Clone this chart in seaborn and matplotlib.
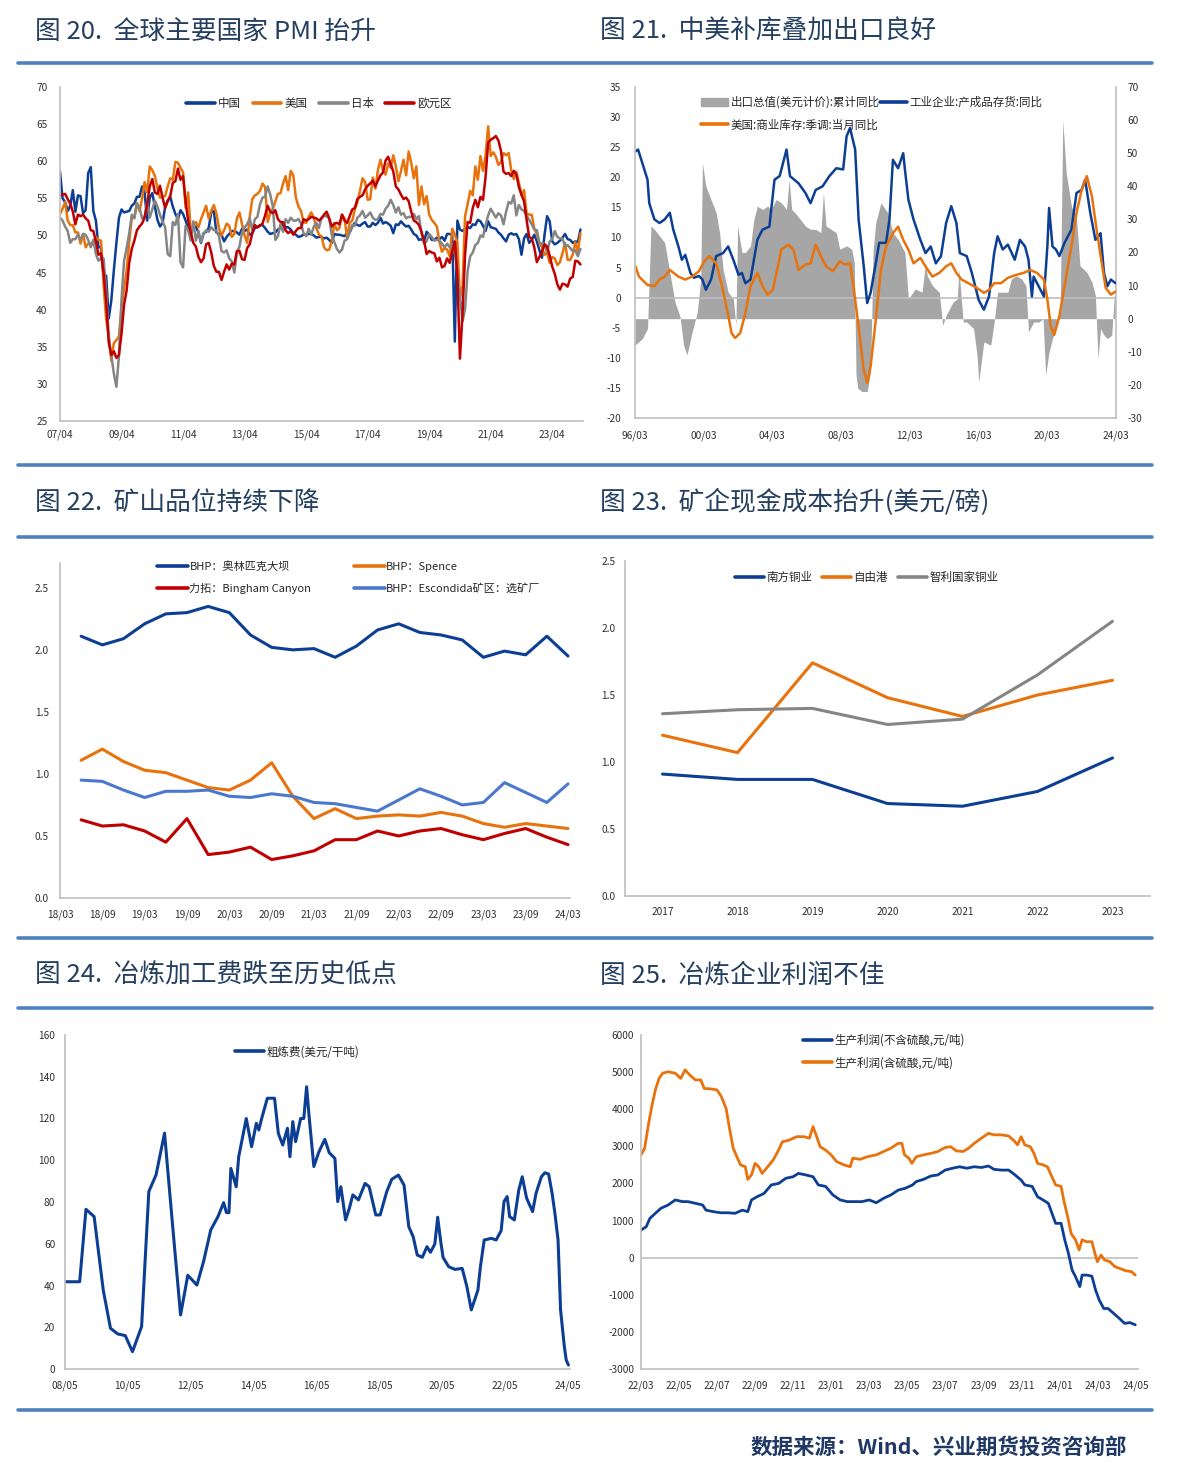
import numpy as np
import pandas as pd
import matplotlib
matplotlib.use("Agg")
import matplotlib.pyplot as plt
import seaborn as sns
from matplotlib.lines import Line2D
from matplotlib.patches import Patch

# ---------------- data ----------------
# Fig 20: monthly PMI, 2007-04 .. 2024-03
pmi_china = [58.6, 55.0, 54.5, 53.3, 54.0, 56.1, 53.2, 55.4, 55.3,
             53.0, 53.4, 58.4, 59.2, 53.3, 52.0, 48.4, 48.4, 44.6, 44.6, 38.8, 41.2,
             45.3, 49.0, 52.4, 53.5, 53.1, 53.2, 53.3, 54.0, 54.3, 55.2, 55.2, 56.6,
             55.8, 52.0, 55.1, 55.7, 53.9, 52.1, 51.2, 51.7, 53.8, 54.7, 55.2, 53.9,
             52.9, 52.2, 53.4, 52.9, 52.0, 50.9, 50.7, 50.9, 51.2, 50.4, 49.0, 50.3,
             50.5, 51.0, 53.1, 53.3, 50.4, 50.2, 50.1, 49.2, 49.8, 50.2, 50.6, 50.6,
             50.4, 50.1, 50.9, 50.6, 50.8, 50.1, 50.3, 51.0, 51.1, 51.4, 51.4, 51.0,
             50.5, 50.2, 50.3, 50.4, 50.8, 51.0, 51.7, 51.1, 51.1, 50.8, 50.3, 50.1,
             49.8, 49.9, 50.1, 50.1, 50.2, 50.2, 50.0, 49.7, 49.8, 49.8, 49.6, 49.7,
             49.4, 49.0, 50.2, 50.1, 50.1, 50.0, 49.9, 50.4, 50.4, 51.2, 51.7, 51.4,
             51.3, 51.6, 51.8, 51.2, 51.2, 51.7, 51.4, 51.7, 52.4, 51.6, 51.8, 51.6,
             51.3, 50.3, 51.5, 51.4, 51.9, 51.5, 51.2, 51.3, 50.8, 50.2, 50.0, 49.4,
             49.5, 49.2, 50.5, 50.1, 49.4, 49.4, 49.7, 49.5, 49.8, 49.3, 50.2, 50.2,
             50.0, 35.7, 52.0, 50.8, 50.6, 50.9, 51.1, 51.0, 51.5, 51.4, 52.1, 51.9,
             51.3, 50.6, 51.9, 51.1, 51.0, 50.9, 50.4, 50.1, 49.6, 49.2, 50.1, 50.3,
             50.1, 50.2, 49.5, 47.4, 49.6, 50.2, 49.0, 49.4, 50.1, 49.2, 48.0, 47.0,
             50.1, 52.6, 51.9, 49.2, 48.8, 49.0, 49.3, 49.7, 50.2, 49.5, 49.4, 49.0,
             49.2, 49.1, 50.8]
pmi_us = [52.9, 53.6, 54.5, 52.0, 51.4, 51.4, 50.4, 50.4, 48.9,
          50.2, 48.4, 48.9, 48.9, 49.1, 49.8, 49.4, 49.3, 43.4, 38.7, 36.5, 33.1,
          35.5, 35.9, 36.4, 40.4, 42.8, 45.3, 49.1, 52.4, 52.4, 54.4, 53.3, 54.9,
          57.2, 55.8, 59.3, 58.8, 58.0, 56.4, 55.1, 55.2, 55.3, 56.6, 57.7, 57.5,
          59.9, 59.8, 59.1, 58.5, 53.7, 55.8, 50.6, 51.3, 51.8, 51.1, 52.2, 53.1,
          54.0, 52.3, 53.3, 54.1, 53.0, 51.0, 50.0, 50.7, 51.6, 51.3, 49.8, 50.2,
          52.3, 53.1, 51.5, 50.0, 49.0, 52.5, 54.9, 55.4, 55.6, 56.0, 57.0, 56.5,
          51.8, 53.0, 53.6, 54.6, 55.6, 55.7, 57.0, 58.0, 56.1, 58.7, 58.1, 55.1,
          53.9, 53.3, 51.8, 51.7, 52.5, 53.1, 52.4, 51.0, 50.1, 49.9, 48.4, 48.0,
          48.1, 49.2, 51.6, 50.7, 51.0, 52.8, 52.3, 49.6, 51.7, 52.0, 53.5, 54.5,
          56.0, 57.7, 57.2, 54.8, 54.9, 57.8, 56.3, 58.8, 60.2, 58.7, 58.2, 59.7,
          59.1, 60.8, 59.3, 57.3, 58.7, 60.2, 58.1, 61.3, 59.8, 57.7, 59.3, 54.1,
          56.6, 54.2, 55.3, 52.8, 52.1, 51.7, 51.2, 49.1, 47.8, 48.3, 48.1, 47.2,
          50.9, 50.1, 49.1, 41.5, 43.1, 52.6, 54.2, 56.0, 55.4, 59.3, 57.5, 60.7,
          58.7, 60.8, 64.7, 60.7, 61.2, 60.6, 59.5, 59.9, 61.1, 60.8, 61.1, 58.8,
          57.6, 58.6, 57.1, 55.4, 56.1, 53.0, 52.8, 52.8, 50.9, 50.2, 49.0, 48.4,
          47.4, 47.7, 46.3, 47.1, 46.9, 46.0, 46.4, 47.6, 49.0, 46.7, 46.7, 47.4,
          49.1, 47.8, 50.3]
pmi_japan = [52.4, 52.0, 51.2, 50.6, 49.0, 49.5, 49.5, 50.1, 49.4,
             50.2, 50.1, 49.4, 48.4, 49.4, 47.5, 46.6, 46.9, 46.9, 42.4, 36.4, 33.9,
             31.4, 29.6, 33.8, 41.4, 46.6, 48.3, 50.3, 52.8, 52.3, 54.3, 53.8, 52.3,
             52.5, 54.5, 52.4, 53.5, 54.7, 53.9, 52.8, 51.9, 51.1, 47.5, 47.2, 51.8,
             51.4, 52.9, 46.4, 45.7, 51.3, 50.7, 49.3, 51.9, 49.3, 50.6, 49.1, 50.2,
             50.7, 50.5, 51.1, 50.7, 50.7, 49.9, 47.9, 47.7, 48.0, 46.9, 46.5, 45.0,
             47.7, 48.5, 50.4, 51.1, 51.5, 52.3, 50.7, 52.2, 52.5, 54.2, 55.1, 55.2,
             56.6, 55.5, 53.9, 49.4, 49.9, 51.5, 50.5, 52.2, 51.7, 52.4, 52.0, 52.0,
             52.2, 51.6, 50.3, 49.9, 50.9, 50.1, 51.2, 51.7, 51.0, 52.4, 52.6, 52.6,
             52.3, 50.1, 49.1, 48.2, 47.7, 48.1, 49.3, 49.5, 50.4, 51.4, 51.3, 52.4,
             52.7, 53.3, 52.4, 52.7, 53.1, 52.4, 52.1, 52.2, 52.9, 52.8, 53.6, 54.0,
             54.8, 54.1, 53.1, 53.8, 52.8, 53.0, 52.3, 52.5, 52.5, 52.9, 52.2, 52.6,
             50.3, 48.9, 49.2, 50.2, 49.8, 49.3, 49.4, 49.3, 48.9, 48.4, 48.9, 48.4,
             48.8, 47.8, 44.8, 41.9, 38.4, 40.1, 45.2, 47.2, 47.7, 48.7, 49.0, 50.0,
             49.8, 51.4, 52.7, 53.6, 53.0, 52.4, 53.0, 52.7, 51.5, 53.2, 54.5, 54.3,
             55.4, 52.7, 54.1, 53.5, 53.3, 52.7, 52.1, 51.5, 50.8, 50.7, 49.0, 48.9,
             48.9, 47.7, 49.2, 49.5, 50.6, 49.8, 49.6, 49.6, 48.5, 48.7, 48.3, 47.9,
             48.0, 47.2, 48.2]
pmi_euro = [55.4, 55.5, 55.6, 54.9, 54.3, 53.2, 51.5, 52.8, 52.6,
            52.8, 52.3, 52.0, 50.7, 50.6, 49.2, 47.4, 47.6, 45.0, 41.1, 35.6, 33.9,
            34.4, 33.5, 33.9, 36.8, 40.7, 42.6, 46.3, 48.2, 49.3, 50.7, 51.2, 51.6,
            52.4, 54.2, 56.6, 57.6, 55.8, 55.6, 56.7, 55.1, 53.7, 54.6, 55.3, 57.1,
            57.3, 59.0, 57.5, 58.0, 54.6, 52.0, 50.4, 49.0, 48.5, 47.1, 46.4, 46.9,
            48.8, 49.0, 47.7, 45.9, 45.1, 45.1, 44.0, 45.1, 46.1, 45.4, 46.2, 46.1,
            47.9, 47.9, 46.8, 46.7, 48.3, 48.8, 50.3, 51.4, 51.1, 51.3, 51.6, 52.7,
            54.0, 53.2, 53.0, 53.4, 52.2, 51.8, 51.8, 50.7, 50.3, 50.6, 50.1, 50.6,
            51.0, 51.0, 52.2, 52.0, 52.2, 52.5, 52.4, 52.3, 52.0, 52.3, 52.8, 53.2,
            52.3, 51.2, 51.6, 51.7, 51.5, 52.8, 52.0, 51.7, 52.6, 53.5, 53.7, 54.9,
            55.2, 55.4, 56.2, 56.7, 57.0, 57.4, 56.6, 57.4, 58.1, 58.5, 60.1, 60.6,
            59.6, 58.6, 56.6, 56.2, 55.5, 54.9, 55.1, 54.6, 53.2, 52.0, 51.8, 51.4,
            50.5, 49.3, 47.5, 47.9, 47.7, 47.6, 46.5, 47.0, 45.7, 45.9, 46.9, 46.3,
            47.9, 49.2, 44.5, 33.4, 39.4, 47.4, 51.8, 51.7, 53.7, 54.8, 53.8, 55.2,
            54.8, 57.9, 62.5, 62.9, 63.1, 63.4, 62.8, 61.4, 58.6, 58.3, 58.4, 58.0,
            58.7, 58.2, 56.5, 55.5, 54.6, 52.1, 49.8, 49.6, 48.4, 46.4, 47.1, 47.8,
            48.8, 48.5, 47.3, 45.8, 44.8, 43.4, 42.7, 43.5, 43.4, 43.1, 44.2, 44.4,
            46.6, 46.5, 46.1]
pmi_names = ["中国", "美国", "日本", "欧元区"]

# Fig 21: (decimal year, value)
inv_china = [(1996.2, 24.3), (1996.35, 24.6), (1996.9, 19.6), (1997.0, 15.7), (1997.3, 13.0),
             (1997.6, 12.4), (1997.9, 13.0), (1998.2, 14.1), (1998.4, 11.3), (1998.7, 8.5),
             (1998.9, 6.3), (1999.1, 7.1), (1999.4, 4.1), (1999.6, 3.3), (1999.9, 3.6),
             (2000.1, 3.0), (2000.3, 1.3), (2000.6, 3.0), (2000.9, 6.9), (2001.3, 7.4),
             (2001.6, 8.5), (2001.9, 6.3), (2002.2, 3.8), (2002.4, 4.1), (2002.6, 2.4),
             (2002.9, 3.0), (2003.3, 9.6), (2003.6, 11.3), (2004.0, 11.8), (2004.3, 19.6),
             (2004.6, 20.2), (2005.0, 24.6), (2005.2, 20.2), (2005.7, 19.0), (2006.1, 17.4),
             (2006.4, 15.7), (2006.7, 17.9), (2007.1, 18.5), (2007.5, 20.2), (2007.9, 21.5),
             (2008.3, 21.3), (2008.5, 26.8), (2008.7, 28.2), (2009.0, 24.6), (2009.2, 13.0),
             (2009.5, 5.2), (2009.7, -0.9), (2009.9, 0.8), (2010.2, 5.7), (2010.4, 9.1),
             (2010.8, 9.1), (2011.0, 13.0), (2011.2, 22.9), (2011.5, 21.5), (2011.8, 24.0),
             (2011.9, 21.3), (2012.1, 16.3), (2012.4, 13.0), (2012.8, 9.6), (2013.1, 7.4),
             (2013.4, 8.5), (2013.7, 5.7), (2014.0, 6.9), (2014.3, 12.4), (2014.6, 15.2),
             (2014.9, 12.4), (2015.1, 7.4), (2015.5, 6.9), (2015.8, 4.1), (2016.2, -0.4),
             (2016.5, -2.0), (2016.8, 0.2), (2017.1, 7.4), (2017.3, 10.2), (2017.6, 8.0),
             (2017.9, 8.8), (2018.3, 6.3), (2018.6, 9.6), (2018.9, 8.5), (2019.1, 6.3),
             (2019.3, 0.2), (2019.4, 3.5), (2019.6, 2.4), (2020.0, 0.2), (2020.2, 8.5),
             (2020.3, 14.9), (2020.5, 8.5), (2020.7, 8.0), (2020.9, 6.9), (2021.2, 9.1),
             (2021.6, 11.3), (2021.9, 17.4), (2022.2, 17.9), (2022.4, 19.6), (2022.7, 14.1),
             (2023.0, 9.6), (2023.3, 10.7), (2023.5, 4.1), (2023.7, 1.9), (2023.9, 3.0),
             (2024.17, 2.4)]
inv_us = [(1996.2, 5.2), (1996.4, 3.5), (1996.9, 2.1), (1997.3, 1.9), (1997.6, 3.0),
          (1997.9, 3.5), (1998.2, 4.6), (1998.7, 3.5), (1999.1, 3.0), (1999.5, 3.5),
          (1999.9, 4.4), (2000.2, 6.0), (2000.5, 6.9), (2000.9, 5.7), (2001.2, 2.4),
          (2001.5, -1.5), (2001.8, -5.9), (2002.0, -6.7), (2002.3, -5.9), (2002.6, -2.6),
          (2002.9, 1.9), (2003.3, 4.1), (2003.6, 1.9), (2003.9, 0.5), (2004.2, 1.3),
          (2004.5, 5.2), (2004.7, 8.0), (2005.1, 8.8), (2005.4, 8.0), (2005.7, 4.6),
          (2006.1, 5.5), (2006.4, 5.7), (2006.7, 8.8), (2007.0, 6.9), (2007.3, 5.2),
          (2007.7, 4.4), (2008.1, 6.0), (2008.4, 5.5), (2008.7, 5.7), (2008.9, 1.9),
          (2009.2, -4.8), (2009.5, -12.0), (2009.7, -14.2), (2009.9, -11.4), (2010.2, -3.7),
          (2010.5, 4.6), (2010.8, 8.5), (2011.2, 10.7), (2011.5, 11.8), (2011.8, 9.6),
          (2012.1, 8.0), (2012.4, 5.7), (2012.8, 6.6), (2013.1, 5.2), (2013.5, 3.5),
          (2013.9, 4.1), (2014.3, 5.2), (2014.6, 5.7), (2014.9, 4.1), (2015.2, 3.0),
          (2015.6, 2.4), (2016.1, 1.6), (2016.5, 0.8), (2016.8, 1.3), (2017.1, 2.4),
          (2017.5, 2.4), (2017.9, 3.3), (2018.4, 3.8), (2018.8, 4.1), (2019.2, 4.6),
          (2019.6, 4.1), (2020.0, 3.0), (2020.2, -0.3), (2020.4, -4.8), (2020.6, -6.2),
          (2020.9, -3.1), (2021.2, 1.9), (2021.6, 8.5), (2021.9, 14.1), (2022.2, 17.9),
          (2022.5, 20.2), (2022.8, 16.8), (2023.1, 10.7), (2023.4, 5.2), (2023.6, 1.6),
          (2023.9, 0.5), (2024.17, 1.0)]
export_yoy = [(1996.17, -8), (1996.6, -6), (1996.9, -3), (1997.0, 12), (1997.1, 28),
              (1997.3, 27), (1997.6, 25), (1997.9, 23), (1998.2, 14), (1998.5, 5),
              (1998.8, 0.5), (1999.0, -8), (1999.2, -11), (1999.5, -4), (1999.8, 2),
              (2000.0, 12), (2000.1, 47), (2000.3, 40), (2000.6, 36), (2000.9, 32),
              (2001.1, 26), (2001.3, 15), (2001.6, 8), (2001.9, 6), (2002.05, -2),
              (2002.15, 28), (2002.4, 20), (2002.6, 20), (2002.9, 22), (2003.1, 30),
              (2003.3, 34), (2003.6, 33), (2003.9, 34), (2004.1, 33), (2004.4, 36),
              (2004.7, 35), (2005.0, 33), (2005.15, 42), (2005.3, 33), (2005.5, 32),
              (2005.8, 30), (2006.1, 28), (2006.4, 27), (2006.7, 27), (2007.0, 26),
              (2007.15, 38), (2007.3, 28), (2007.6, 27), (2007.9, 26), (2008.1, 21),
              (2008.5, 22), (2008.8, 21), (2008.95, 17), (2009.05, -17), (2009.15, -21),
              (2009.4, -22), (2009.7, -22), (2009.9, -16), (2010.05, 21), (2010.2, 29),
              (2010.5, 35), (2010.9, 32), (2011.2, 26), (2011.5, 24), (2011.9, 20),
              (2012.1, 6), (2012.5, 9), (2012.9, 8), (2013.1, 17), (2013.2, 13),
              (2013.5, 10), (2013.9, 8), (2014.1, -2), (2014.3, 1), (2014.7, 5),
              (2014.95, 6), (2015.05, 15), (2015.2, 5), (2015.3, -1), (2015.5, -1),
              (2015.9, -3), (2016.1, -11), (2016.2, -19), (2016.5, -7), (2016.9, -8),
              (2017.1, -1), (2017.3, 8), (2017.6, 8), (2017.9, 8), (2018.1, 12),
              (2018.4, 13), (2018.7, 12), (2018.95, 10), (2019.1, -4), (2019.4, -1),
              (2019.7, -1), (2019.95, 0), (2020.1, -17), (2020.3, -10), (2020.5, -6),
              (2020.8, -1), (2020.95, 3), (2021.1, 60), (2021.3, 44), (2021.6, 34),
              (2021.9, 30), (2022.1, 16), (2022.5, 14), (2022.8, 11), (2023.0, 7),
              (2023.15, -12), (2023.3, -3), (2023.5, -5), (2023.7, -6), (2023.95, -5),
              (2024.1, 7), (2024.17, 7)]

# Fig 22: quarterly grade, 2018-06 .. 2024-03
grade_olympic = [2.11, 2.04, 2.09, 2.21, 2.29, 2.30, 2.35, 2.30, 2.12, 2.02, 2.00, 2.01,
                 1.94, 2.03, 2.16, 2.21, 2.14, 2.12, 2.08, 1.94, 1.99, 1.96, 2.11, 1.95]
grade_spence = [1.11, 1.20, 1.10, 1.03, 1.01, 0.95, 0.89, 0.87, 0.95, 1.09, 0.82, 0.64,
                0.72, 0.64, 0.66, 0.67, 0.66, 0.69, 0.66, 0.60, 0.57, 0.60, 0.58, 0.56]
grade_bingham = [0.63, 0.58, 0.59, 0.54, 0.45, 0.64, 0.35, 0.37, 0.41, 0.31, 0.34, 0.38,
                 0.47, 0.47, 0.54, 0.50, 0.54, 0.56, 0.51, 0.47, 0.52, 0.56, 0.49, 0.43]
grade_escondida = [0.95, 0.94, 0.87, 0.81, 0.86, 0.86, 0.87, 0.82, 0.81, 0.84, 0.82, 0.77,
                   0.76, 0.73, 0.70, 0.79, 0.88, 0.82, 0.75, 0.77, 0.93, 0.85, 0.77, 0.92]

# Fig 23: cash cost
cost_years = ["2017", "2018", "2019", "2020", "2021", "2022", "2023"]
cost_southern = [0.91, 0.87, 0.87, 0.69, 0.67, 0.78, 1.03]
cost_freeport = [1.20, 1.07, 1.74, 1.48, 1.34, 1.50, 1.61]
cost_codelco = [1.36, 1.39, 1.40, 1.28, 1.32, 1.65, 2.05]

# Fig 24: TC (decimal year, USD/t)
tc_fee = [(2008.333, 41.8), (2008.80, 41.8), (2009.00, 76.5), (2009.26, 73.0), (2009.55, 37.8),
          (2009.78, 19.5), (2010.01, 16.8), (2010.25, 16.0), (2010.48, 8.3), (2010.77, 20.3),
          (2011.00, 85.0), (2011.23, 93.0), (2011.50, 113.0), (2011.75, 69.8), (2012.01, 25.9),
          (2012.24, 44.9), (2012.53, 40.2), (2012.74, 51.4), (2012.97, 66.6), (2013.20, 73.0),
          (2013.38, 79.7), (2013.47, 74.9), (2013.55, 74.9), (2013.61, 96.1), (2013.78, 87.3),
          (2013.86, 101.7), (2014.10, 120.0), (2014.27, 106.5), (2014.42, 117.7), (2014.50, 114.5),
          (2014.59, 120.0), (2014.77, 129.7), (2015.00, 129.7), (2015.12, 112.9), (2015.26, 107.3),
          (2015.41, 115.3), (2015.49, 101.7), (2015.58, 118.5), (2015.67, 108.9), (2015.83, 120.0),
          (2015.93, 120.0), (2016.02, 135.2), (2016.10, 120.9), (2016.25, 97.0), (2016.41, 104.0),
          (2016.60, 110.0), (2016.74, 103.6), (2016.92, 100.9), (2017.01, 80.2), (2017.11, 87.3),
          (2017.26, 71.4), (2017.38, 77.0), (2017.49, 83.4), (2017.67, 81.0), (2017.88, 88.9),
          (2018.01, 87.3), (2018.22, 73.8), (2018.36, 73.8), (2018.57, 85.0), (2018.73, 90.9),
          (2018.94, 92.9), (2019.12, 88.1), (2019.27, 68.2), (2019.41, 63.4), (2019.54, 54.6),
          (2019.70, 53.5), (2019.85, 58.6), (2019.96, 55.9), (2020.10, 59.9), (2020.19, 72.7),
          (2020.28, 61.8), (2020.36, 53.5), (2020.54, 49.0), (2020.74, 47.7), (2020.97, 48.2),
          (2021.12, 39.4), (2021.26, 28.3), (2021.47, 37.8), (2021.55, 49.0), (2021.67, 61.8),
          (2021.90, 62.6), (2022.05, 61.8), (2022.21, 66.3), (2022.30, 80.2), (2022.40, 82.6),
          (2022.48, 73.0), (2022.63, 71.4), (2022.77, 85.7), (2022.88, 92.1), (2023.02, 81.8),
          (2023.21, 75.4), (2023.32, 84.2), (2023.49, 92.1), (2023.60, 94.0), (2023.72, 93.4),
          (2023.83, 84.2), (2023.92, 74.6), (2024.02, 61.8), (2024.10, 28.3), (2024.22, 10.7),
          (2024.28, 4.3), (2024.35, 1.9)]

# Fig 25: smelter profit (decimal year, CNY/t)
profit_with_acid = [(2022.167, 2766), (2022.183, 2950), (2022.198, 3530), (2022.214, 4070), (2022.230, 4520),
                    (2022.246, 4830), (2022.262, 4970), (2022.286, 5010), (2022.317, 4970), (2022.341, 4830),
                    (2022.360, 5060), (2022.381, 4920), (2022.405, 4790), (2022.429, 4790), (2022.444, 4560),
                    (2022.476, 4545), (2022.500, 4520), (2022.519, 4340), (2022.540, 4020), (2022.556, 3440),
                    (2022.571, 2950), (2022.587, 2720), (2022.603, 2500), (2022.624, 2450), (2022.635, 2110),
                    (2022.651, 2230), (2022.667, 2540), (2022.683, 2450), (2022.698, 2270), (2022.722, 2450),
                    (2022.746, 2630), (2022.770, 2900), (2022.786, 3120), (2022.817, 3170), (2022.849, 3260),
                    (2022.881, 3260), (2022.905, 3220), (2022.921, 3530), (2022.937, 3260), (2022.952, 2990),
                    (2022.976, 2900), (2023.000, 2770), (2023.024, 2590), (2023.056, 2500), (2023.084, 2450),
                    (2023.095, 2680), (2023.127, 2650), (2023.159, 2720), (2023.198, 2770), (2023.230, 2860),
                    (2023.262, 2950), (2023.294, 3080), (2023.310, 3080), (2023.322, 2770), (2023.341, 2680),
                    (2023.354, 2540), (2023.373, 2720), (2023.405, 2770), (2023.437, 2810), (2023.468, 2860),
                    (2023.500, 2970), (2023.524, 2990), (2023.548, 2880), (2023.579, 2860), (2023.603, 2950),
                    (2023.627, 3080), (2023.659, 3220), (2023.690, 3350), (2023.714, 3310), (2023.746, 3310),
                    (2023.778, 3280), (2023.802, 3150), (2023.817, 3040), (2023.833, 3260), (2023.849, 3040),
                    (2023.873, 2990), (2023.889, 2810), (2023.905, 2540), (2023.929, 2500), (2023.948, 2450),
                    (2023.964, 2230), (2023.984, 1960), (2024.008, 1920), (2024.021, 1510), (2024.037, 1100),
                    (2024.052, 650), (2024.071, 480), (2024.087, 210), (2024.100, 480), (2024.119, 430),
                    (2024.143, 430), (2024.156, 120), (2024.167, -110), (2024.183, 70), (2024.198, -60),
                    (2024.222, -110), (2024.243, -240), (2024.265, -290), (2024.290, -350), (2024.317, -380),
                    (2024.333, -470)]
profit_no_acid = [(2022.167, 745), (2022.190, 835), (2022.206, 1060), (2022.230, 1195), (2022.254, 1330),
                  (2022.286, 1420), (2022.317, 1555), (2022.349, 1510), (2022.373, 1510), (2022.405, 1465),
                  (2022.437, 1420), (2022.452, 1280), (2022.484, 1240), (2022.516, 1210), (2022.548, 1210),
                  (2022.579, 1195), (2022.611, 1280), (2022.635, 1240), (2022.651, 1555), (2022.675, 1640),
                  (2022.706, 1730), (2022.738, 1960), (2022.770, 2000), (2022.802, 2140), (2022.833, 2180),
                  (2022.857, 2270), (2022.889, 2230), (2022.921, 2180), (2022.944, 1960), (2022.976, 1920),
                  (2023.008, 1690), (2023.040, 1555), (2023.071, 1510), (2023.103, 1510), (2023.135, 1510),
                  (2023.167, 1555), (2023.198, 1480), (2023.230, 1600), (2023.262, 1690), (2023.294, 1820),
                  (2023.325, 1870), (2023.357, 1960), (2023.373, 2050), (2023.405, 2110), (2023.437, 2200),
                  (2023.468, 2230), (2023.500, 2360), (2023.532, 2410), (2023.563, 2450), (2023.595, 2410),
                  (2023.627, 2450), (2023.659, 2430), (2023.690, 2470), (2023.714, 2380), (2023.746, 2360),
                  (2023.778, 2360), (2023.802, 2250), (2023.833, 2090), (2023.849, 1960), (2023.881, 1920),
                  (2023.905, 1640), (2023.929, 1555), (2023.952, 1465), (2023.968, 1195), (2023.984, 925),
                  (2024.008, 925), (2024.024, 480), (2024.040, 120), (2024.056, -330), (2024.071, -510),
                  (2024.090, -780), (2024.100, -470), (2024.122, -470), (2024.143, -500), (2024.159, -870),
                  (2024.175, -1140), (2024.195, -1370), (2024.214, -1370), (2024.238, -1500), (2024.262, -1630),
                  (2024.286, -1770), (2024.310, -1750), (2024.333, -1810)]

# ---------------- style ----------------
sns.set_theme(style="white")
plt.rcParams['font.family'] = ['Noto Sans CJK SC', 'DejaVu Sans']
plt.rcParams['axes.unicode_minus'] = False

BLUE = '#0C3F94'
ORANGE = '#E8720C'
GRAY = '#858585'
RED = '#C00000'
LBLUE = '#4A78CC'
AREA = '#A6A6A6'
NAVY = '#243F60'
SEP = '#4F81BD'
SPINE = '#BFBFBF'
LEG = 8.3

W, H = 1179, 1483
fig = plt.figure(figsize=(W / 100, H / 100), dpi=100)


def box(l, t, r, b):
    return [l / W, 1 - b / H, (r - l) / W, (b - t) / H]


def style(ax, xpad=7, ypad=7):
    for s in ['top', 'right']:
        ax.spines[s].set_visible(False)
    for s in ['left', 'bottom']:
        ax.spines[s].set_color(SPINE)
        ax.spines[s].set_linewidth(1.2)
    ax.tick_params(axis='both', length=0, labelsize=7.3, colors='#303030')
    ax.tick_params(axis='x', pad=xpad)
    ax.tick_params(axis='y', pad=ypad)
    ax.set_xlabel('')
    ax.set_ylabel('')
    ax.grid(False)


def line_handles(colors, lw=2.6):
    return [Line2D([], [], color=c, lw=lw) for c in colors]


def pairs_df(pairs):
    return pd.DataFrame(pairs, columns=['t', 'v'])


# titles and separators
titles = [("图 20.  全球主要国家 PMI 抬升", 35, 32), ("图 21.  中美补库叠加出口良好", 600, 32),
          ("图 22.  矿山品位持续下降", 35, 503), ("图 23.  矿企现金成本抬升(美元/磅)", 600, 503),
          ("图 24.  冶炼加工费跌至历史低点", 35, 976), ("图 25.  冶炼企业利润不佳", 600, 976)]
for txt, x, y in titles:
    fig.text(x / W, 1 - y / H, txt, ha='left', va='center', fontsize=18.5, color=NAVY)
for y in [63, 465, 537, 938, 1008, 1410]:
    fig.add_artist(Line2D([18 / W, 1152 / W], [1 - y / H, 1 - y / H], color=SEP, lw=2.6))
fig.text(1127 / W, 1 - 1447 / H, "数据来源：Wind、兴业期货投资咨询部", ha='right', va='center',
         fontsize=15.5, fontweight='bold', color='#1F3864')

# ---- Fig 20 ----
ax1 = fig.add_axes(box(60, 87, 583, 421))
months = pd.date_range('2007-04-01', periods=len(pmi_china), freq='MS')
t_month = np.asarray(months.year + (months.month - 1) / 12.0)
df1 = pd.DataFrame({
    't': np.tile(t_month, 4),
    'v': pmi_china + pmi_us + pmi_japan + pmi_euro,
    's': np.repeat(pmi_names, len(t_month)),
})
sns.lineplot(data=df1, x='t', y='v', hue='s', hue_order=pmi_names,
             palette=[BLUE, ORANGE, GRAY, RED], linewidth=1.8, ax=ax1, legend=False)
ax1.set_xlim(2007.25, 2024.25)
ax1.set_ylim(25, 70)
ax1.set_yticks(range(25, 71, 5))
ax1.set_xticks([2007.25 + 2 * k for k in range(9)])
ax1.set_xticklabels([f"{7 + 2 * k:02d}/04" for k in range(9)])
style(ax1, xpad=6, ypad=9)
ax1.legend(line_handles([BLUE, ORANGE, GRAY, RED]), pmi_names, loc='center',
           bbox_to_anchor=(0.495, 0.95), ncol=4, frameon=False, fontsize=LEG,
           handlelength=2.5, handletextpad=0.25, columnspacing=1.0)

# ---- Fig 21 ----
ax2 = fig.add_axes(box(635, 87, 1116, 418))
ax2r = ax2.twinx()
ex = pairs_df(export_yoy)
ax2r.fill_between(ex['t'], ex['v'], 0, color=AREA, lw=0)
ax2r.set_ylim(-30, 70)
ax2r.set_yticks(range(-30, 71, 10))
ax2.set_zorder(ax2r.get_zorder() + 1)
ax2.patch.set_visible(False)
ax2.axhline(0, color=SPINE, lw=1.2, zorder=1)
sns.lineplot(data=pairs_df(inv_china), x='t', y='v', color=BLUE, linewidth=1.8, ax=ax2)
sns.lineplot(data=pairs_df(inv_us), x='t', y='v', color=ORANGE, linewidth=1.8, ax=ax2)
ax2.set_xlim(1996.17, 2024.2)
ax2.set_ylim(-20, 35)
ax2.set_yticks(range(-20, 36, 5))
ax2.set_xticks([1996.17 + 4 * k for k in range(8)])
ax2.set_xticklabels([f"{(96 + 4 * k) % 100:02d}/03" for k in range(8)])
style(ax2, xpad=9, ypad=10)
for s in ['top', 'left', 'bottom']:
    ax2r.spines[s].set_visible(False)
ax2r.spines['right'].set_color(SPINE)
ax2r.spines['right'].set_linewidth(1.2)
ax2r.tick_params(axis='y', length=0, labelsize=7.3, colors='#303030', pad=8)
ax2r.grid(False)
ax2r.set_ylabel('')
h21 = [Patch(color=AREA), Line2D([], [], color=ORANGE, lw=2.6), Line2D([], [], color=BLUE, lw=2.6)]
l21 = ["出口总值(美元计价):累计同比", "美国:商业库存:季调:当月同比", "工业企业:产成品存货:同比"]
ax2.legend(h21, l21, loc='upper left', bbox_to_anchor=(0.122, 0.995), ncol=2, frameon=False,
           fontsize=LEG, handlelength=2.4, handletextpad=0.2, columnspacing=0.0,
           labelspacing=0.85, borderaxespad=0.2)

# ---- Fig 22 ----
ax3 = fig.add_axes(box(60, 563, 570, 898))
quarters = pd.date_range('2018-06-01', periods=len(grade_olympic), freq='3MS')
t_q = np.asarray(quarters.year + (quarters.month - 1) / 12.0)
grade_names = ["BHP：奥林匹克大坝", "力拓：Bingham Canyon", "BHP：Spence", "BHP：Escondida矿区：选矿厂"]
df3 = pd.DataFrame({
    't': np.tile(t_q, 4),
    'v': grade_olympic + grade_bingham + grade_spence + grade_escondida,
    's': np.repeat(grade_names, len(t_q)),
})
grade_colors = [BLUE, RED, ORANGE, LBLUE]
sns.lineplot(data=df3, x='t', y='v', hue='s', hue_order=grade_names, palette=grade_colors,
             linewidth=2.2, ax=ax3, legend=False)
ax3.set_xlim(2018.167, 2024.19)
ax3.set_ylim(0, 2.7)
ax3.set_yticks([0, 0.5, 1.0, 1.5, 2.0, 2.5])
ax3.set_yticklabels(["0.0", "0.5", "1.0", "1.5", "2.0", "2.5"])
ax3.set_xticks([2018.167 + 0.5 * k for k in range(13)])
ax3.set_xticklabels([f"{18 + k // 2}/{'03' if k % 2 == 0 else '09'}" for k in range(13)])
style(ax3, xpad=8, ypad=8)
ax3.legend(line_handles(grade_colors), grade_names, loc='upper left',
           bbox_to_anchor=(0.17, 1.035), ncol=2, frameon=False, fontsize=8.0,
           handlelength=2.8, handletextpad=0.15, columnspacing=3.8, labelspacing=1.0)

# ---- Fig 23 ----
ax4 = fig.add_axes(box(625, 561, 1150, 896))
cost_names = ["南方铜业", "自由港", "智利国家铜业"]
df4 = pd.DataFrame({
    'year': cost_years * 3,
    'v': cost_southern + cost_freeport + cost_codelco,
    's': np.repeat(cost_names, len(cost_years)),
})
cost_colors = [BLUE, ORANGE, GRAY]
sns.lineplot(data=df4, x='year', y='v', hue='s', hue_order=cost_names, palette=cost_colors,
             linewidth=2.2, ax=ax4, legend=False, sort=False)
ax4.set_xlim(-0.5, 6.5)
ax4.set_ylim(0, 2.5)
ax4.set_yticks([0, 0.5, 1.0, 1.5, 2.0, 2.5])
ax4.set_yticklabels(["0.0", "0.5", "1.0", "1.5", "2.0", "2.5"])
style(ax4, xpad=8, ypad=7)
ax4.legend(line_handles(cost_colors), cost_names, loc='center', bbox_to_anchor=(0.46, 0.95),
           ncol=3, frameon=False, fontsize=LEG, handlelength=2.5, handletextpad=0.2,
           columnspacing=0.9)

# ---- Fig 24 ----
ax5 = fig.add_axes(box(65, 1035, 570, 1369))
sns.lineplot(data=pairs_df(tc_fee), x='t', y='v', color=BLUE, linewidth=2.2, ax=ax5)
ax5.set_xlim(2008.333, 2024.4)
ax5.set_ylim(0, 160)
ax5.set_yticks(range(0, 161, 20))
ax5.set_xticks([2008.333 + 2 * k for k in range(9)])
ax5.set_xticklabels([f"{8 + 2 * k:02d}/05" for k in range(9)])
style(ax5, xpad=8, ypad=7)
ax5.legend(line_handles([BLUE]), ["粗炼费(美元/干吨)"], loc='center', bbox_to_anchor=(0.46, 0.95),
           frameon=False, fontsize=LEG, handlelength=2.5, handletextpad=0.2)

# ---- Fig 25 ----
ax6 = fig.add_axes(box(641, 1035, 1138, 1369))
ax6.axhline(0, color=SPINE, lw=1.2, zorder=1)
sns.lineplot(data=pairs_df(profit_no_acid), x='t', y='v', color=BLUE, linewidth=2.0, ax=ax6)
sns.lineplot(data=pairs_df(profit_with_acid), x='t', y='v', color=ORANGE, linewidth=2.0, ax=ax6)
ax6.set_xlim(2022.167, 2024.345)
ax6.set_ylim(-3000, 6000)
ax6.set_yticks(range(-3000, 6001, 1000))
tick6 = [2022.167 + k / 6 for k in range(14)]
lab6 = []
for k in range(14):
    m = 3 + 2 * k
    lab6.append(f"{22 + (m - 1) // 12}/{(m - 1) % 12 + 1:02d}")
ax6.set_xticks(tick6)
ax6.set_xticklabels(lab6)
style(ax6, xpad=8, ypad=5)
ax6.legend(line_handles([BLUE, ORANGE]), ["生产利润(不含硫酸,元/吨)", "生产利润(含硫酸,元/吨)"],
           loc='upper left', bbox_to_anchor=(0.305, 1.035), frameon=False, fontsize=LEG,
           handlelength=2.5, handletextpad=0.2, labelspacing=0.85)

fig.savefig("out.png", dpi=100, facecolor='white')
